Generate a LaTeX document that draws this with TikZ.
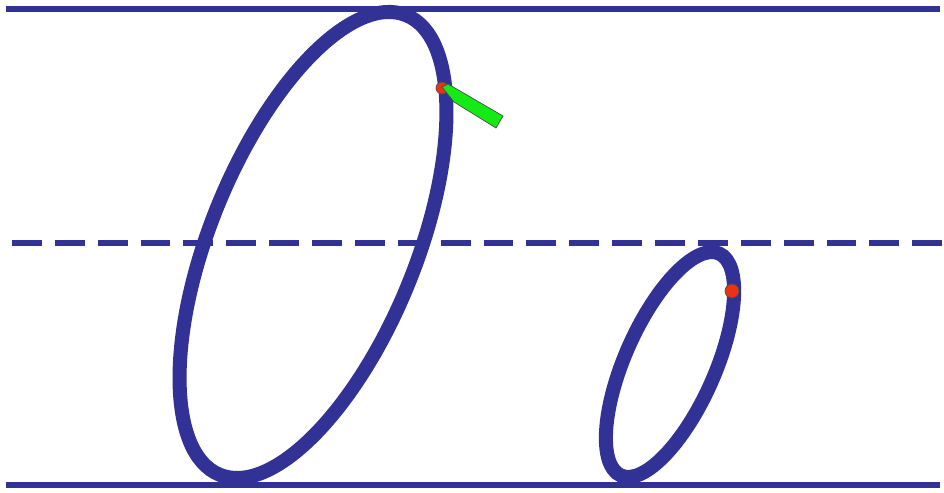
\documentclass[tikz,border=0pt]{standalone}
\definecolor{inkblue}{RGB}{50,50,150}
\definecolor{dotred}{RGB}{235,50,20}
\definecolor{pencilgreen}{RGB}{20,235,20}
\tikzset{
  guide/.style={draw=inkblue,line width=2.9pt},
  letter/.style={draw=inkblue,line width=8pt},
  startdot/.style={fill=dotred,draw=black!70,line width=0.4pt},
}
\begin{document}
\begin{tikzpicture}[x=0.02cm,y=-0.02cm]
\useasboundingbox (0,0) rectangle (944,493);
\draw[guide] (6,9) -- (940,9);
\draw[guide,dash pattern=on 17pt off 7.4pt] (12,243) -- (944,243);
\draw[guide] (6,485) -- (940,485);
\draw[letter,rotate around={-22.1:(313,245)}] (313,245) ellipse [x radius=103,y radius=248];
\draw[letter,rotate around={-23.9:(670,364.5)}] (670,364.5) ellipse [x radius=45,y radius=121.4];
\fill[startdot] (442,88) circle [radius=6];
\draw[fill=pencilgreen,draw=black!70,line width=0.4pt] (442,87) -- (448,84) -- (503,116) -- (496,128) -- (454,102) -- cycle;
\fill[startdot] (732,291) circle [radius=7];
\end{tikzpicture}
\end{document}
